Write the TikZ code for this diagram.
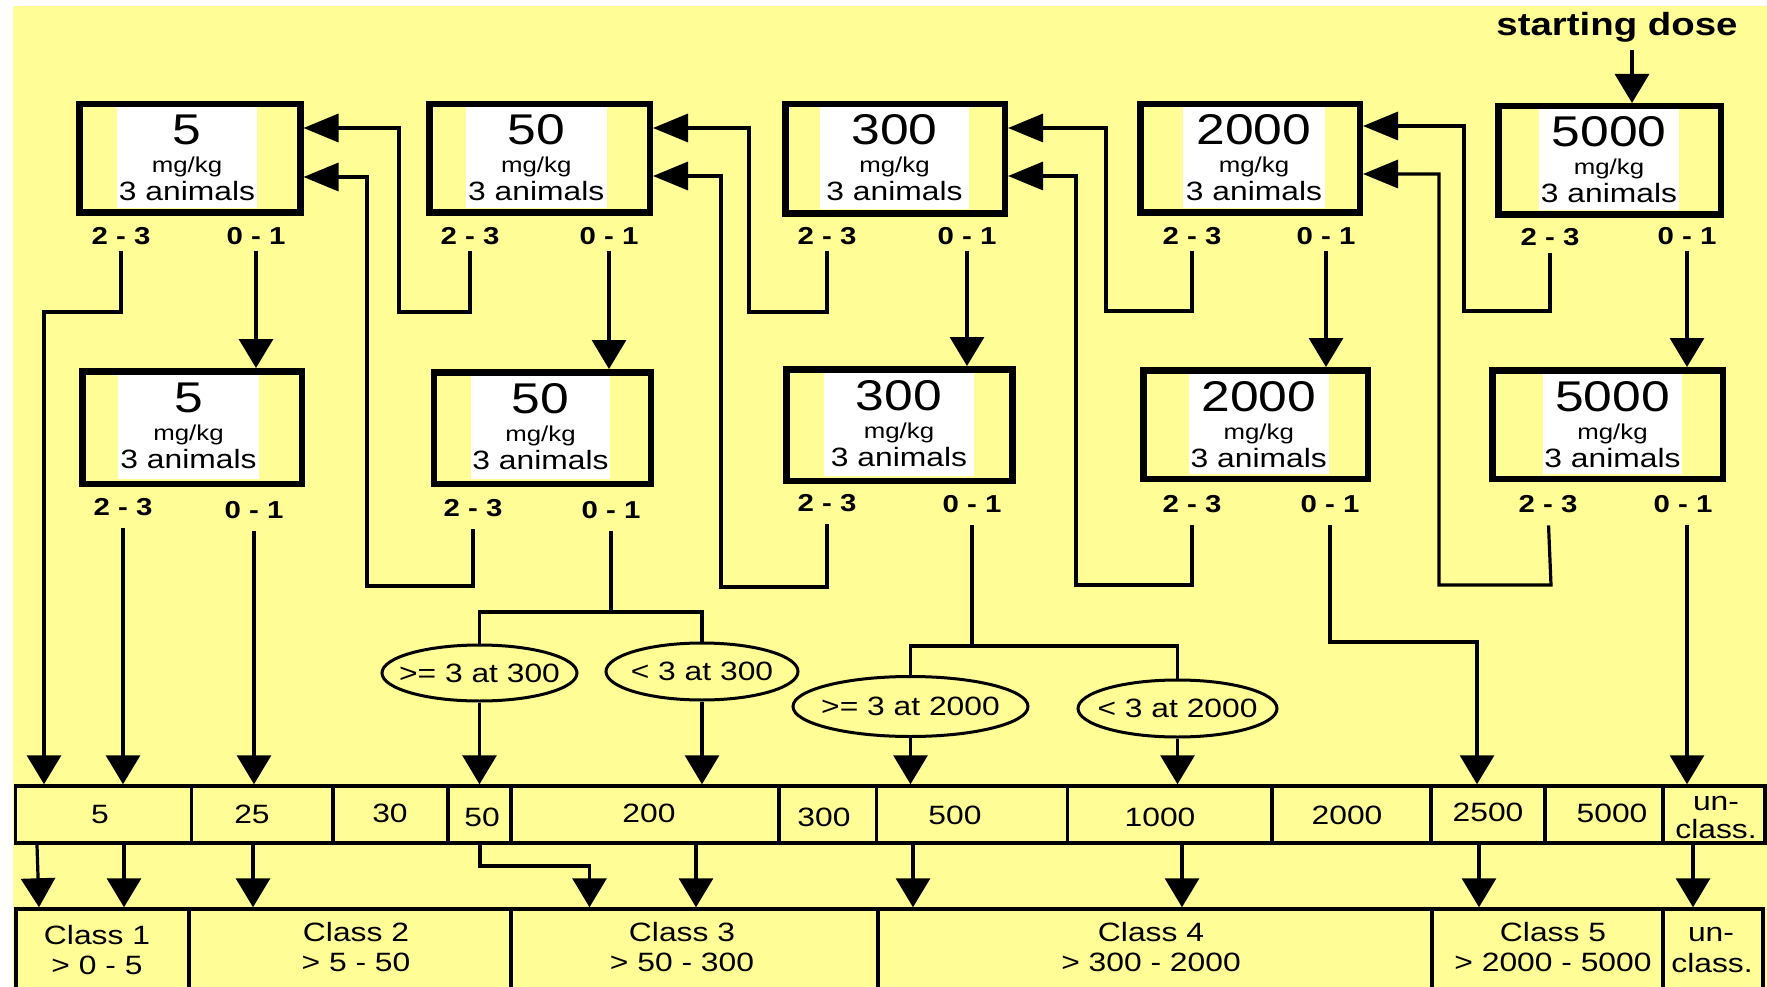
\documentclass[tikz,border=0pt]{standalone}
\usepackage{fontspec}
\setmainfont{Liberation Sans}[FakeStretch=1.2]
\usetikzlibrary{arrows.meta,shapes.geometric}
\definecolor{bgyellow}{RGB}{255,253,150}
\newcommand\fsNum{\fontsize{43}{43}\selectfont}
\newcommand\fsMg{\fontsize{21.5}{22}\selectfont}
\newcommand\fsAn{\fontsize{26.5}{27}\selectfont}
\newcommand\fsLab{\fontsize{24.5}{25}\selectfont\bfseries}
\newcommand\fsBar{\fontsize{26.5}{27}\selectfont}
\newcommand\fsStart{\fontsize{32}{32}\selectfont\bfseries}
\newcommand\DoseBox[8]{%
  \fill[white] (#6,#3+4) rectangle (#7,#5-8);
  \node[dosebox, minimum width={(#4-#2-6.5)*1pt}, minimum height={(#5-#3-6.5)*1pt}] (#1) at ({(#2+#4)/2},{(#3+#5)/2}) {};
  \node[numtxt] (#1n) at ({(#6+#7)/2},#3+44) {#8};
  \node[mgtxt] (#1m) at ({(#6+#7)/2},#3+72) {mg/kg};
  \node[antxt] (#1a) at ({(#6+#7)/2},#3+100) {3 animals};
}
\newcommand\Cell[5]{%
  \node[cellbox, minimum width={(#3-#2)*1pt}, minimum height={(#5-#4)*1pt}] (#1) at ({(#2+#3)/2},{(#4+#5)/2}) {};
}
\begin{document}
\begin{tikzpicture}[x=1pt,y=-1pt,
  dosebox/.style={draw=black, line width=6.5pt, rectangle, inner sep=0pt},
  numtxt/.style={anchor=base, inner sep=0pt, font=\fsNum},
  mgtxt/.style={anchor=base, inner sep=0pt, font=\fsMg},
  antxt/.style={anchor=base, inner sep=0pt, font=\fsAn},
  lab/.style={anchor=base, inner sep=0pt, font=\fsLab},
  bartxt/.style={anchor=base, inner sep=0pt, font=\fsBar},
  cellbox/.style={draw=black, line width=3.5pt, rectangle, inner sep=0pt},
  ell/.style={draw=black, line width=3pt, ellipse, inner sep=0pt},
  conn/.style={line width=3.2pt, line join=miter},
  va/.style={conn, -{Triangle[length=29pt,width=34pt]}},
  ha/.style={conn, -{Triangle[length=35pt,width=28pt]}},
  gapT/.style={shorten <=7pt},
  gapR/.style={shorten <=13pt}]
\useasboundingbox (0,0) rectangle (1767,987);
\clip (0,0) rectangle (1767,987);
\fill[white] (0,0) rectangle (1767,987);
\fill[bgyellow] (13,6) rectangle (1767,987);

% top row boxes
\DoseBox{B5}{76}{101}{303.5}{216}{117}{257}{5}
\DoseBox{B50}{426}{101}{653}{216}{465.5}{607}{50}
\DoseBox{B300}{782}{101}{1008}{217}{820}{969}{300}
\DoseBox{B2000}{1137}{101}{1363}{216}{1183}{1325}{2000}
\DoseBox{B5000}{1495}{103}{1724}{218}{1539}{1679}{5000}
% second row boxes
\DoseBox{R5}{79}{368}{305}{487}{118}{259}{5}
\DoseBox{R50}{430.5}{369}{654}{487}{471}{610}{50}
\DoseBox{R300}{783}{366}{1015.5}{484}{824}{974}{300}
\DoseBox{R2000}{1140}{367}{1371}{482}{1189}{1328.5}{2000}
\DoseBox{R5000}{1489}{367}{1726}{482}{1543}{1682}{5000}

% starting dose
\node[anchor=base, inner sep=0pt, font=\fsStart] (sd) at (1617,36) {starting dose};
\draw[va, shorten <=7pt] (sd.south -| 1632,0) -- (B5000.north -| 1632,0);

% labels top row
\node[lab] (t5a) at (121,244) {2 - 3};
\node[lab] (t5b) at (256,244) {0 - 1};
\node[lab] (t50a) at (470,244) {2 - 3};
\node[lab] (t50b) at (609,244) {0 - 1};
\node[lab] (t300a) at (827,244) {2 - 3};
\node[lab] (t300b) at (967,244) {0 - 1};
\node[lab] (t2000a) at (1192,244) {2 - 3};
\node[lab] (t2000b) at (1326,244) {0 - 1};
\node[lab] (t5000a) at (1550,246) {2 - 3};
\node[lab] (t5000b) at (1687,244) {0 - 1};
% labels second row
\node[lab] (r5a) at (123,515) {2 - 3};
\node[lab] (r5b) at (254,518) {0 - 1};
\node[lab] (r50a) at (473,516) {2 - 3};
\node[lab] (r50b) at (611,518) {0 - 1};
\node[lab] (r300a) at (827,511) {2 - 3};
\node[lab] (r300b) at (972,512) {0 - 1};
\node[lab] (r2000a) at (1192,512) {2 - 3};
\node[lab] (r2000b) at (1330,512) {0 - 1};
\node[lab] (r5000a) at (1548,512) {2 - 3};
\node[lab] (r5000b) at (1683,512) {0 - 1};

% bar 1 cells
\Cell{c5}{15.5}{191.5}{786}{843}
\Cell{c25}{191.5}{333}{786}{843}
\Cell{c30}{333}{448}{786}{843}
\Cell{c50}{448}{511}{786}{843}
\Cell{c200}{511}{779}{786}{843}
\Cell{c300}{779}{876.5}{786}{843}
\Cell{c500}{876.5}{1067.6}{786}{843}
\Cell{c1000}{1067.6}{1272}{786}{843}
\Cell{c2000}{1272}{1431}{786}{843}
\Cell{c2500}{1431}{1545}{786}{843}
\Cell{c5000}{1545}{1663}{786}{843}
\Cell{cun}{1663}{1765}{786}{843}
\node[bartxt] (c5t) at (100,823) {5};
\node[bartxt] (c25t) at (252,823) {25};
\node[bartxt] (c30t) at (390,822.5) {30};
\node[bartxt] (c50t) at (482,826.5) {50};
\node[bartxt] (c200t) at (649,822.5) {200};
\node[bartxt] (c300t) at (824,826.5) {300};
\node[bartxt] (c500t) at (955,824.5) {500};
\node[bartxt] (c1000t) at (1160,826.5) {1000};
\node[bartxt] (c2000t) at (1347,824.5) {2000};
\node[bartxt] (c2500t) at (1488,821.7) {2500};
\node[bartxt] (c5000t) at (1612,822.5) {5000};
\node[bartxt] (cunt1) at (1716,810) {un-};
\node[bartxt] (cunt2) at (1716,838) {class.};

% bar 2 cells
\Cell{k1}{16}{189}{909}{1000}
\Cell{k2}{189}{511}{909}{1000}
\Cell{k3}{511}{878}{909}{1000}
\Cell{k4}{878}{1432}{909}{1000}
\Cell{k5}{1432}{1663}{909}{1000}
\Cell{ku}{1663}{1763}{909}{1000}
\node[bartxt] (k1a) at (97,944) {Class 1};
\node[bartxt] (k1b) at (97,974) {> 0 - 5};
\node[bartxt] (k2a) at (356,941.5) {Class 2};
\node[bartxt] (k2b) at (356,971.5) {> 5 - 50};
\node[bartxt] (k3a) at (682,941.5) {Class 3};
\node[bartxt] (k3b) at (682,971.5) {> 50 - 300};
\node[bartxt] (k4a) at (1151,941.5) {Class 4};
\node[bartxt] (k4b) at (1151,971.5) {> 300 - 2000};
\node[bartxt] (k5a) at (1553,941) {Class 5};
\node[bartxt] (k5b) at (1553,971) {> 2000 - 5000};
\node[bartxt] (kua) at (1711,941.7) {un-};
\node[bartxt] (kub) at (1712,972.5) {class.};

% ellipses
\node[ell, minimum width=195pt, minimum height=56pt] (e1) at (479.5,673) {};
\node[inner sep=0pt, font=\fsBar] (e1t) at (e1.center) {>= 3 at 300};
\node[ell, minimum width=192pt, minimum height=57pt] (e2) at (702,671.5) {};
\node[inner sep=0pt, font=\fsBar] (e2t) at (e2.center) {< 3 at 300};
\node[ell, minimum width=235pt, minimum height=60pt] (e3) at (910.5,706.5) {};
\node[inner sep=0pt, font=\fsBar] (e3t) at (e3.center) {>= 3 at 2000};
\node[ell, minimum width=199pt, minimum height=57pt] (e4) at (1177.5,708.5) {};
\node[inner sep=0pt, font=\fsBar] (e4t) at (e4.center) {< 3 at 2000};

% feedback arrows (2-3) top row
\draw[ha,gapT] (t50a.south) -- (470,312) -- (399,312) -- (399,128) -- (B5.east |- 0,128);
\draw[ha,gapT] (t300a.south) -- (827,312) -- (749,312) -- (749,128) -- (B50.east |- 0,128);
\draw[ha,gapT] (t2000a.south) -- (1192,311) -- (1106,311) -- (1106,128) -- (B300.east |- 0,128);
\draw[ha,gapT] (t5000a.south) -- (1550,311) -- (1464,311) -- (1464,126) -- (B2000.east |- 0,126);
% feedback arrows (2-3) second row
\draw[ha,gapR] (r50a.south) -- (473,586) -- (367,586) -- (367,177) -- (B5.east |- 0,177);
\draw[ha,gapR] (r300a.south) -- (827,587) -- (721,587) -- (721,176) -- (B50.east |- 0,176);
\draw[ha,gapR] (r2000a.south) -- (1192,585) -- (1076,585) -- (1076,176) -- (B300.east |- 0,176);
\draw[ha,gapR] (r5000a.south) -- (1551,585) -- (1439,585) -- (1439,174) -- (B2000.east |- 0,174);

% 0-1 top row down to second row
\draw[va,gapT] (t5b.south) -- (t5b.south |- R5.north);
\draw[va,gapT] (t50b.south) -- (t50b.south |- R50.north);
\draw[va,gapT] (t300b.south) -- (t300b.south |- R300.north);
\draw[va,gapT] (t2000b.south) -- (t2000b.south |- R2000.north);
\draw[va,gapT] (t5000b.south) -- (t5000b.south |- R5000.north);

% to bar 1
\draw[va,gapT] (t5a.south) -- (121,312) -- (44,312) -- (c5.north -| 44,0);
\draw[va,gapR] (r5a.south) -- (r5a.south |- c5.north);
\draw[va,gapR] (r5b.south) -- (r5b.south |- c25.north);
\draw[conn,gapR] (r50b.south) -- (611,612);
\draw[conn] (e1.north) -- (e1.north |- 0,612) -- (e2.north |- 0,612) -- (e2.north);
\draw[va] (e1.south) -- (e1.south |- c50.north);
\draw[va] (e2.south) -- (e2.south |- c200.north);
\draw[conn,gapR] (r300b.south) -- (972,646);
\draw[conn] (e3.north) -- (e3.north |- 0,646) -- (e4.north |- 0,646) -- (e4.north);
\draw[va] (e3.south) -- (e3.south |- c500.north);
\draw[va] (e4.south) -- (e4.south |- c1000.north);
\draw[va,gapR] (r2000b.south) -- (1330,642) -- (1477,642) -- (c2500.north -| 1477,0);
\draw[va,gapR] (r5000b.south -| 1687,0) -- (cun.north -| 1687,0);

% bar 1 to bar 2
\draw[va] (c5.south -| 37,0) -- (k1.north -| 39,0);
\draw[va] (c5.south -| 124,0) -- (k1.north -| 124,0);
\draw[va] (c25.south -| 253,0) -- (k2.north -| 253,0);
\draw[va] (c50.south -| 480,0) -- (480,866) -- (589.5,866) -- (k3.north -| 589.5,0);
\draw[va] (c200.south -| 696,0) -- (k3.north -| 696,0);
\draw[va] (c500.south -| 913,0) -- (k4.north -| 913,0);
\draw[va] (c1000.south -| 1182,0) -- (k4.north -| 1182,0);
\draw[va] (c2500.south -| 1479,0) -- (k5.north -| 1479,0);
\draw[va] (cun.south -| 1693,0) -- (ku.north -| 1693,0);
\end{tikzpicture}
\end{document}
